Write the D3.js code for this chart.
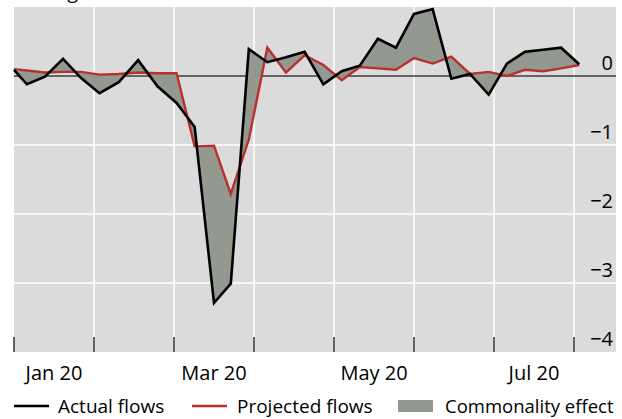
<!DOCTYPE html>
<html>
<head>
<meta charset="utf-8">
<script src="https://cdn.jsdelivr.net/npm/d3@7"></script>
<style>
  html, body { margin: 0; padding: 0; background: #fff; }
  svg { display: block; font-family: "Open Sans", "Noto Sans", sans-serif; }
</style>
</head>
<body>
<svg id="chart" width="622" height="419"></svg>
<script>
// ---- data ----
const dates = ["2020-01-01","2020-01-06","2020-01-13","2020-01-20","2020-01-27",
  "2020-02-03","2020-02-10","2020-02-17","2020-02-24",
  "2020-03-02","2020-03-09","2020-03-16","2020-03-23","2020-03-30",
  "2020-04-06","2020-04-13","2020-04-20","2020-04-27",
  "2020-05-04","2020-05-11","2020-05-18","2020-05-25",
  "2020-06-01","2020-06-08","2020-06-15","2020-06-22","2020-06-29",
  "2020-07-06","2020-07-13","2020-07-20","2020-07-27","2020-08-03"];
const actualFlows = [0.09,-0.12,-0.01,0.25,-0.03,
  -0.25,-0.09,0.23,-0.15,
  -0.39,-0.74,-3.29,-3.01,0.39,
  0.20,0.27,0.35,-0.12,
  0.07,0.15,0.54,0.41,
  0.90,0.97,-0.04,0.03,-0.27,
  0.18,0.35,0.38,0.41,0.17];
const projectedFlows = [0.10,0.08,0.05,0.06,0.06,
  0.02,0.03,0.05,0.04,
  0.04,-1.02,-1.01,-1.71,-0.92,
  0.41,0.05,0.30,0.16,
  -0.06,0.13,0.11,0.09,
  0.26,0.18,0.28,0.03,0.06,
  0.00,0.09,0.07,0.11,0.16];
const yTicks = [0,-1,-2,-3,-4];
const monthTicks = ["2020-01-01","2020-02-01","2020-03-01","2020-04-01","2020-05-01","2020-06-01","2020-07-01","2020-08-01"];
const monthLabels = ["Jan 20","Mar 20","May 20","Jul 20"];
const monthLabelDates = ["2020-01-16","2020-03-16","2020-05-16","2020-07-16"];
const legendLabels = ["Actual flows","Projected flows","Commonality effect"];

// ---- layout ----
const svg = d3.select("#chart");
const L = 14, R = 616, T = 7, B = 352;
const parse = d3.utcParse("%Y-%m-%d");
// month-position: each calendar month gets equal width
function monthPos(dt) {
  const d = parse(dt);
  const m = d.getUTCMonth();
  const dim = new Date(Date.UTC(2020, m + 1, 0)).getUTCDate();
  const mid = (d.getUTCDate() === 16) ? 0.5 : (d.getUTCDate() - 1) / dim;
  return m + mid;
}
const x = d3.scaleLinear().domain([0, 7.525]).range([L, R]);
const y = d3.scaleLinear().domain([-4, 1]).range([B, T]);

const data = dates.map((d, i) => ({ m: monthPos(d), a: actualFlows[i], p: projectedFlows[i] }));

// background
svg.append("rect").attr("x", L).attr("y", T).attr("width", R - L).attr("height", B - T).attr("fill", "#dbdbdb");

// title remnant (cut off at the top, as in the reference)
svg.append("text").attr("x", 4).attr("y", -1).attr("font-size", 19).attr("fill", "#000").text("% change");

// gridlines
svg.append("g").selectAll("line").data(monthTicks.slice(1)).join("line")
  .attr("x1", d => x(monthPos(d))).attr("x2", d => x(monthPos(d)))
  .attr("y1", T).attr("y2", B).attr("stroke", "#fff").attr("stroke-width", 1.5);
svg.append("g").selectAll("line").data(yTicks.filter(v => v !== 0 && v !== -4)).join("line")
  .attr("x1", L).attr("x2", R).attr("y1", d => y(d)).attr("y2", d => y(d))
  .attr("stroke", "#fff").attr("stroke-width", 1.5);

// zero line
svg.append("line").attr("x1", L).attr("x2", R).attr("y1", y(0)).attr("y2", y(0))
  .attr("stroke", "#3c3c3c").attr("stroke-width", 1.6);

// commonality fill
const area = d3.area().x(d => x(d.m)).y0(d => y(d.p)).y1(d => y(d.a));
svg.append("path").datum(data).attr("d", area).attr("fill", "#939891");

// lines
const lineP = d3.line().x(d => x(d.m)).y(d => y(d.p));
const lineA = d3.line().x(d => x(d.m)).y(d => y(d.a));
svg.append("path").datum(data).attr("d", lineP).attr("fill", "none")
  .attr("stroke", "#b8312f").attr("stroke-width", 2.4).attr("stroke-linejoin", "miter");
svg.append("path").datum(data).attr("d", lineA).attr("fill", "none")
  .attr("stroke", "#000").attr("stroke-width", 2.6).attr("stroke-linejoin", "miter");

// bottom tick marks
svg.append("g").selectAll("line").data(monthTicks).join("line")
  .attr("x1", d => x(monthPos(d))).attr("x2", d => x(monthPos(d)))
  .attr("y1", B - 15).attr("y2", B).attr("stroke", "#000").attr("stroke-width", 1.2);

// y labels
svg.append("g").selectAll("text").data(yTicks).join("text")
  .attr("x", 613).attr("y", d => y(d) - 6).attr("text-anchor", "end")
  .attr("font-size", 20).attr("fill", "#000")
  .text(d => d === 0 ? "0" : "\u2212" + Math.abs(d));

// x labels
svg.append("g").selectAll("text").data(monthLabels).join("text")
  .attr("x", (d, i) => x(monthPos(monthLabelDates[i]))).attr("y", 380)
  .attr("text-anchor", "middle").attr("font-size", 20).attr("fill", "#000")
  .text(d => d);

// legend
const lg = svg.append("g");
const ly = 406;
lg.append("line").attr("x1", 14).attr("x2", 49).attr("y1", ly).attr("y2", ly).attr("stroke", "#000").attr("stroke-width", 2.6);
lg.append("text").attr("x", 58).attr("y", ly + 7).attr("font-size", 19).text(legendLabels[0]);
lg.append("line").attr("x1", 192).attr("x2", 227).attr("y1", ly).attr("y2", ly).attr("stroke", "#b8312f").attr("stroke-width", 2.4);
lg.append("text").attr("x", 237).attr("y", ly + 7).attr("font-size", 19).text(legendLabels[1]);
lg.append("rect").attr("x", 398).attr("y", ly - 6).attr("width", 35).attr("height", 12).attr("fill", "#939891");
lg.append("text").attr("x", 445).attr("y", ly + 7).attr("font-size", 18.5).text(legendLabels[2]);
</script>
</body>
</html>
